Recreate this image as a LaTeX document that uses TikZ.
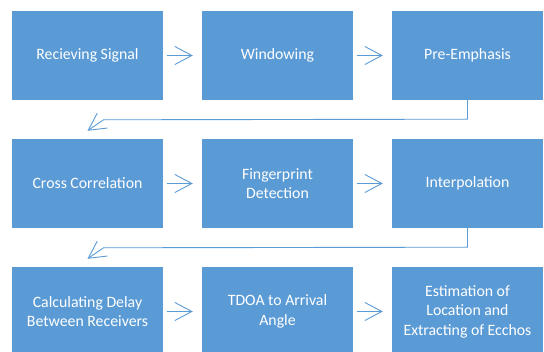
\documentclass[tikz,border=0pt]{standalone}
\usepackage{fontspec}
\setmainfont{Carlito}
\usetikzlibrary{arrows.meta,calc}
\definecolor{boxblue}{HTML}{5B9BD5}
\tikzset{
  stepbox/.style={fill=boxblue, draw=none, minimum width=151pt, minimum height=89pt,
    inner sep=0pt, text=white, align=center, font=\fontsize{15.8}{19.5}\selectfont},
  flow/.style={draw=boxblue, line width=0.9pt, -{Straight Barb[length=17pt,width=18pt,line width=0.9pt]}},
}
\begin{document}
\begin{tikzpicture}[x=1pt,y=-1pt]
\useasboundingbox (0,0) rectangle (544,352);
% first row
\node[stepbox] (b1) at (87.5,55.5) {Recieving Signal};
\node[stepbox] (b2) at (277.5,55.5) {Windowing};
\node[stepbox] (b3) at (467.5,55.5) {Pre-Emphasis};
% second row
\node[stepbox] (b4) at (87.5,183.5) {Cross Correlation};
\node[stepbox] (b5) at (277.5,183.5) {Fingerprint\\Detection};
\node[stepbox] (b6) at (467.5,183.5) {Interpolation};
% third row
\node[stepbox] (b7) at (87.5,311.5) {Calculating Delay\\Between Receivers};
\node[stepbox] (b8) at (277.5,311.5) {TDOA to Arrival\\Angle};
\node[stepbox] (b9) at (467.5,311.5) {Estimation of\\Location and\\Extracting of Ecchos};
% arrows within a row
\foreach \a/\b in {b1/b2,b2/b3,b4/b5,b5/b6,b7/b8,b8/b9}{
  \draw[flow] ($(\a.east)+(4,0)$) -- ($(\b.west)+(-9,0)$);
}
% bends from the end of one row to the start of the next
\foreach \a/\b in {b3/b4,b6/b7}{
  \draw[flow] (\a.south) -- ++(0,19) -- ($(\b.north)+(16,-19)$) -- ($(\b.north)+(0,-8)$);
}
\end{tikzpicture}
\end{document}
